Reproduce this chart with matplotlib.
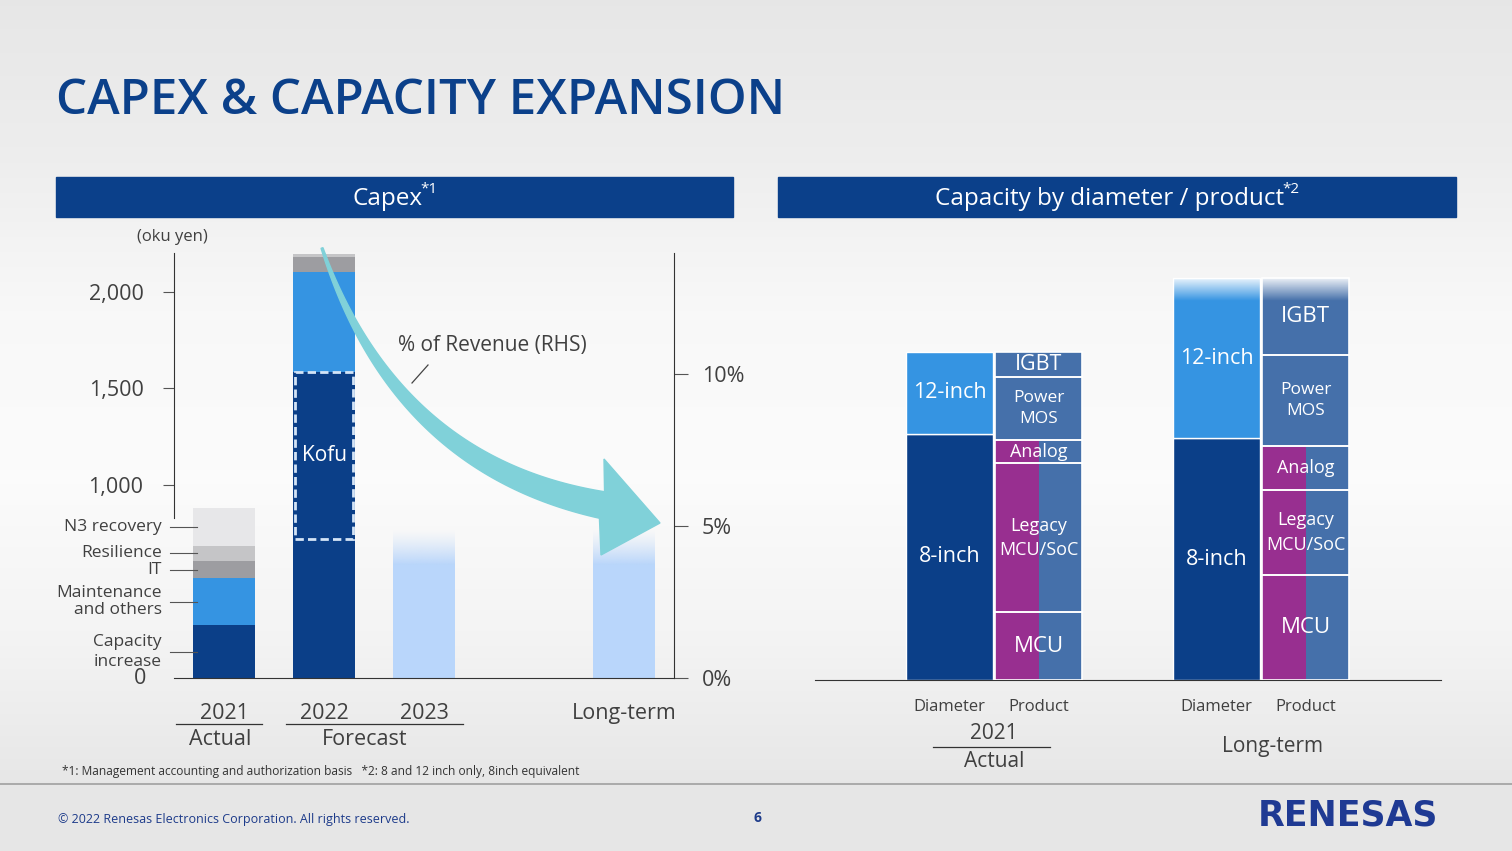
import numpy as np
import matplotlib
matplotlib.use('Agg')
import matplotlib.pyplot as plt
from matplotlib.patches import Rectangle, Polygon
from matplotlib.lines import Line2D
from matplotlib.colors import to_rgb

plt.rcParams['font.family'] = ['Open Sans', 'DejaVu Sans']

W, H = 1512, 851

# ---- Capex (oku yen) ----
capex_years = ['2021', '2022', '2023', 'Long-term']
capex_x = [0, 1, 2, 4]
capacity_increase = [272, 719]
kofu = [0, 867]
maintenance = [246, 517]
it_spend = [86, 78]
resilience = [81, 16]
n3_recovery = [195, 0]
outlook_top = [770, 770]      # 2023 / long-term shaded bars
outlook_solid = [585, 585]
capex_yticks = [0, 1000, 1500, 2000]
rev_ticks = [0, 5, 10]
rev_labels = ['0%', '5%', '10%']

# ---- Capacity (2021 total = 100) ----
diam_names = ['8-inch', '12-inch']
diam_2021 = [75.0, 25.0]
diam_lt = [73.6, 48.8]
prod_names = ['MCU', 'Legacy\nMCU/SoC', 'Analog', 'Power\nMOS', 'IGBT']
prod_2021 = [20.6, 45.4, 7.0, 19.4, 7.6]
prod_lt = [32.0, 25.9, 13.2, 27.9, 23.4]

NAVY = '#0b3f88'
BLUE = '#3594e2'
STEEL = '#4570aa'
MAGENTA = '#982f90'
GRAY = '#9d9da1'
LGRAY = '#c5c5c7'
XLGRAY = '#e7e7e9'
PALE = '#b9d6fb'
TEAL = '#80d1d9'
TXT = '#404040'
HEAD = '#0b408a'


def px(x, y):
    return x / W, 1 - y / H


fig = plt.figure(figsize=(W / 100, H / 100), dpi=100)

# background
bg = fig.add_axes([0, 0, 1, 1], zorder=-10)
bg.axis('off')
rows = np.arange(H)
shade = np.interp(rows, [0, 150, 320, 480, 640, 783, 784, 851],
                  [0.905, 0.93, 0.975, 0.985, 0.955, 0.905, 0.905, 0.905])
bg.imshow(np.repeat(shade[:, None, None], 3, axis=2), extent=[0, 1, 0, 1],
          aspect='auto', interpolation='bilinear')
bg.set_xlim(0, 1)
bg.set_ylim(0, 1)

# title and headers
fig.text(*px(56, 101), 'CAPEX & CAPACITY EXPANSION', fontsize=35.5,
         weight='semibold', color=HEAD, va='center')
for x0, x1, label, sup in [(56, 733, 'Capex', '*1'),
                           (778, 1456, 'Capacity by diameter / product', '*2')]:
    fig.patches.append(Rectangle(px(x0, 217), (x1 - x0) / W, 40 / H,
                                 color=HEAD, transform=fig.transFigure))
    t = fig.text(*px((x0 + x1) / 2 - 7, 199), label, fontsize=17.5, color='white',
                 ha='center', va='center')
    r = fig.canvas.get_renderer()
    bb = t.get_window_extent(r)
    fig.text(bb.x1 / W - 0.0015, 1 - 197 / H, sup, fontsize=11, color='white',
             ha='left', va='bottom')

# ---------------- left: capex ----------------
ax = fig.add_axes([174 / W, (H - 678) / H, 500 / W, 425 / H])
ax.patch.set_alpha(0)
bw = 0.62
layers = [capacity_increase, kofu, maintenance, it_spend, resilience, n3_recovery]
colors = [NAVY, NAVY, BLUE, GRAY, LGRAY, XLGRAY]
bottom = np.zeros(2)
for vals, c in zip(layers, colors):
    ax.bar(capex_x[:2], vals, bw, bottom=bottom, color=c, zorder=2)
    bottom += np.array(vals)

ax.add_patch(Rectangle((capex_x[1] - bw / 2 + 0.02, capacity_increase[1]), bw - 0.04,
                       kofu[1], fill=False, edgecolor='#d4e4f7', lw=2,
                       ls=(0, (3, 1.5)), zorder=3))
ax.text(capex_x[1], capacity_increase[1] + kofu[1] / 2, 'Kofu', color='white',
        fontsize=15, ha='center', va='center', zorder=4)

pale = to_rgb(PALE)
for x, top, solid in zip(capex_x[2:], outlook_top, outlook_solid):
    ax.bar(x, solid, bw, color=PALE, zorder=2)
    grad = np.zeros((64, 1, 4))
    grad[..., :3] = pale
    grad[:, 0, 3] = np.linspace(0, 1, 64) ** 1.3
    ax.imshow(grad, extent=[x - bw / 2, x + bw / 2, solid, top], aspect='auto',
              interpolation='bilinear', zorder=2)

# segment labels for 2021
seg_names = ['Capacity\nincrease', 'Maintenance\nand others', 'IT', 'Resilience',
             'N3 recovery']
seg_vals = [capacity_increase[0], maintenance[0], it_spend[0], resilience[0],
            n3_recovery[0]]
seg_ls = [1.3, 1.1, 1, 1, 1]
edges = np.concatenate([[0], np.cumsum(seg_vals)])
for name, lo, hi, ls in zip(seg_names, edges[:-1], edges[1:], seg_ls):
    mid = (lo + hi) / 2
    ax.text(-0.62, mid, name, ha='right', va='center', fontsize=12.5,
            color=TXT, linespacing=ls)
    ax.plot([-0.54, -0.27], [mid, mid], color='#555555', lw=0.8,
            clip_on=False, zorder=5)

ax.set_xlim(-0.5, 4.5)
ax.set_ylim(0, 2200)
for s in ['top', 'right']:
    ax.spines[s].set_visible(False)
ax.spines['left'].set_bounds(830, 2200)
ax.spines['left'].set_color('#333333')
ax.spines['bottom'].set_color('#333333')
ax.set_yticks(capex_yticks[1:], [f'{v:,}' for v in capex_yticks[1:]])
ax.tick_params(axis='y', direction='out', length=8, width=0.8, color='#555555',
               labelsize=15.5, pad=14, labelcolor=TXT)
# zero label without a tick mark
ax.annotate(f'{capex_yticks[0]:,}', xy=(-0.5, capex_yticks[0]),
            xytext=(-19.8, 0), textcoords='offset points', ha='right',
            va='center', fontsize=15.5, color=TXT, annotation_clip=False)
ax.set_xticks(capex_x, capex_years)
ax.tick_params(axis='x', length=0, labelsize=15.5, pad=18, labelcolor=TXT)

xt = ax.get_xaxis_transform()
ax.plot([-0.48, 0.38], [-0.108, -0.108], color='#333333', lw=0.9,
        transform=xt, clip_on=False)
ax.plot([0.62, 2.39], [-0.108, -0.108], color='#333333', lw=0.9,
        transform=xt, clip_on=False)
ax.text(-0.04, -0.145, 'Actual', transform=xt, ha='center', va='center',
        fontsize=15.5, color=TXT)
ax.text(1.41, -0.145, 'Forecast', transform=xt, ha='center', va='center',
        fontsize=15.5, color=TXT)

ax2 = ax.twinx()
ax2.set_ylim(0, 14.0)
for s in ['top', 'left', 'bottom']:
    ax2.spines[s].set_visible(False)
ax2.spines['right'].set_color('#333333')
ax2.set_yticks(rev_ticks, rev_labels)
ax2.tick_params(axis='y', direction='out', length=10, width=0.8, color='#555555',
                labelsize=15.5, pad=10, labelcolor=TXT)

fig.text(*px(172, 237), '(oku yen)', fontsize=12, color=TXT, ha='center',
         va='center')

# curved arrow (% of revenue trend)
P0, P1, P2 = np.array([322, 248.]), np.array([395, 465.]), np.array([602, 505.])
t = np.linspace(0, 1, 80)[:, None]
B = (1 - t) ** 2 * P0 + 2 * (1 - t) * t * P1 + t ** 2 * P2
D = 2 * (1 - t) * (P1 - P0) + 2 * t * (P2 - P1)
N = np.column_stack([-D[:, 1], D[:, 0]]) / np.linalg.norm(D, axis=1)[:, None]
w = (2 + 25 * t) / 2
e1 = B + N * w
e2 = B - N * w
if e1[-1, 1] > e2[-1, 1]:
    e1, e2 = e2, e1
pts = np.vstack([e1, [[604, 459], [660, 523], [601, 555]], e2[::-1]])
pts_fig = np.column_stack([pts[:, 0] / W, 1 - pts[:, 1] / H])
fig.patches.append(Polygon(pts_fig, closed=True, color=TEAL,
                           transform=fig.transFigure, zorder=5))
fig.text(*px(492, 346), '% of Revenue (RHS)', fontsize=15, color=TXT,
         ha='center', va='center')
fig.add_artist(Line2D([428 / W, 412 / W], [1 - 365 / H, 1 - 383 / H],
                      color='#444444', lw=0.9))

# ---------------- right: capacity ----------------
ax3 = fig.add_axes([815 / W, (H - 680) / H, 626 / W, 427 / H])
ax3.patch.set_alpha(0)
cw = 0.98
for x, vals in [(0, diam_2021), (3, diam_lt)]:
    b = 0
    for name, v, c in zip(diam_names, vals, [NAVY, BLUE]):
        ax3.bar(x, v, cw, bottom=b, color=c, edgecolor='white', lw=1, zorder=2)
        ax3.text(x, b + v / 2, name, color='white', fontsize=15.5,
                 ha='center', va='center', zorder=4)
        b += v

prod_fs = [16, 13, 13, 12.5, 15.5]
for x, vals in [(1, prod_2021), (4, prod_lt)]:
    b = 0
    for j, (name, v) in enumerate(zip(prod_names, vals)):
        if j < 3:
            ax3.bar(x - cw / 4, v, cw / 2, bottom=b, color=MAGENTA, zorder=2)
            ax3.bar(x + cw / 4, v, cw / 2, bottom=b, color=STEEL, zorder=2)
        else:
            ax3.bar(x, v, cw, bottom=b, color=STEEL, zorder=2)
        ax3.bar(x, v, cw, bottom=b, fill=False, edgecolor='white', lw=1.2,
                zorder=3)
        fs = prod_fs[j] + (0.5 if x == 4 and j == 4 else 0)
        ax3.text(x, b + v / 2, name, color='white', fontsize=fs, ha='center',
                 va='center', linespacing=1.45, zorder=4)
        b += v

# fade at top of long-term bars
fade = np.ones((64, 1, 4))
fade[:, 0, 3] = np.linspace(0.9, 0, 64)
ax3.imshow(fade, extent=[3 - cw / 2, 4 + cw / 2, sum(diam_lt) - 7, sum(diam_lt)],
           aspect='auto', interpolation='bilinear', zorder=3)

ax3.set_xlim(-1.51, 5.52)
ax3.set_ylim(0, 130)
for s in ['top', 'right', 'left']:
    ax3.spines[s].set_visible(False)
ax3.spines['bottom'].set_color('#333333')
ax3.set_yticks([])
ax3.set_xticks([0, 1, 3, 4], ['Diameter', 'Product', 'Diameter', 'Product'])
ax3.tick_params(axis='x', length=0, labelsize=12, pad=14, labelcolor=TXT)
xt3 = ax3.get_xaxis_transform()
ax3.text(0.5, -0.126, '2021', transform=xt3, ha='center', va='center',
         fontsize=15, color=TXT)
ax3.plot([-0.185, 1.13], [-0.157, -0.157], transform=xt3, color='#333333',
         lw=0.9, clip_on=False)
ax3.text(0.5, -0.19, 'Actual', transform=xt3, ha='center', va='center',
         fontsize=15, color=TXT)
ax3.text(3.63, -0.155, 'Long-term', transform=xt3, ha='center', va='center',
         fontsize=15, color=TXT)

# footnotes / footer
fig.text(*px(62, 772), '*1: Management accounting and authorization basis   '
         '*2: 8 and 12 inch only, 8inch equivalent', fontsize=8.6, color='#333333',
         va='center')
fig.add_artist(Line2D([0, 1], [1 - 784 / H] * 2, color='#a0a0a0', lw=1.2))
fig.text(*px(58, 819), '\u00a9 2022 Renesas Electronics Corporation. All rights reserved.',
         fontsize=9, color='#1d3b8a', va='center')
fig.text(*px(757, 818), '6', fontsize=10, weight='bold', color='#1d3b8a',
         ha='center', va='center')
fig.text(*px(1348, 815), 'RENESAS', fontsize=25, weight='bold', color='#1f3a93',
         ha='center', va='center', family='DejaVu Sans')

fig.savefig('out.png', dpi=100)
